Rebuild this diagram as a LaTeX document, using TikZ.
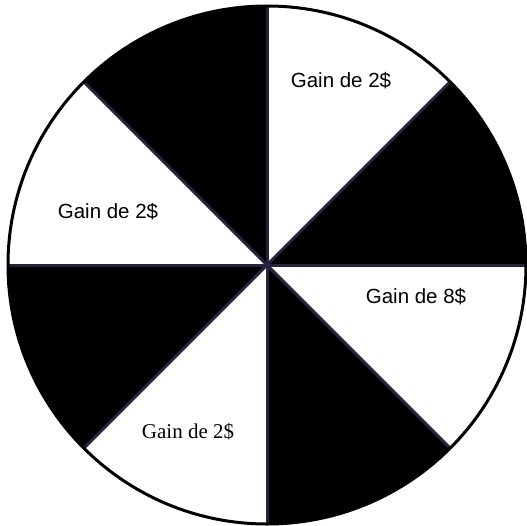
\documentclass[tikz,border=0pt]{standalone}
\usepackage{fontspec}
\setmainfont{Liberation Sans}
\newfontfamily\timesfont{Liberation Serif}
\usepackage{tikz}
\usetikzlibrary{calc}
\usepackage{xcolor}
\definecolor{spokeblue}{RGB}{36, 36, 62}

\tikzset{
  gainlabel/.style={font=\fontsize{20.5}{24}\selectfont, inner sep=0pt},
  spoke/.style={spokeblue, line width=3pt},
}

\begin{document}
\begin{tikzpicture}[x=1pt, y=-1pt]
  \useasboundingbox (0,0) rectangle (527,525);
  \pgfmathsetmacro{\R}{259}

  % Centre and rim points
  \coordinate (O) at (267,265);
  \coordinate (E)  at ($(O)+(\R,0)$);
  \coordinate (W)  at ($(O)+(-\R,0)$);
  \coordinate (N)  at ($(O)+(0,-\R)$);
  \coordinate (S)  at ($(O)+(0,\R)$);
  \coordinate (NE) at ($(O)+({\R*cos(45)},{-\R*sin(45)})$);
  \coordinate (NW) at ($(O)+({-\R*cos(45)},{-\R*sin(45)})$);
  \coordinate (SE) at ($(O)+({\R*cos(45)},{\R*sin(45)})$);
  \coordinate (SW) at ($(O)+({-\R*cos(45)},{\R*sin(45)})$);

  % Black sectors
  \fill[black] (O) -- (NE) arc[start angle=-45, end angle=0, radius=\R] -- cycle;
  \fill[black] (O) -- (S) arc[start angle=90, end angle=45, radius=\R] -- cycle;
  \fill[black] (O) -- (W) arc[start angle=180, end angle=135, radius=\R] -- cycle;
  \fill[black] (O) -- (N) arc[start angle=-90, end angle=-135, radius=\R] -- cycle;

  % Spokes
  \draw[spoke] (W) -- (E);
  \draw[spoke] (N) -- (S);
  \draw[spoke] (NW) -- (SE);
  \draw[spoke] (SW) -- (NE);

  % Rim
  \draw[black, line width=3pt] (O) circle (\R);

  % Labels
  \node[gainlabel] (g1) at (341,81) {Gain de 2\$};
  \node[gainlabel] (g2) at (108,212) {Gain de 2\$};
  \node[gainlabel] (g3) at (416,297) {Gain de 8\$};
  \node[gainlabel, font=\timesfont\fontsize{21}{24}\selectfont] (g4) at (188,432) {Gain de 2\$};
\end{tikzpicture}
\end{document}
